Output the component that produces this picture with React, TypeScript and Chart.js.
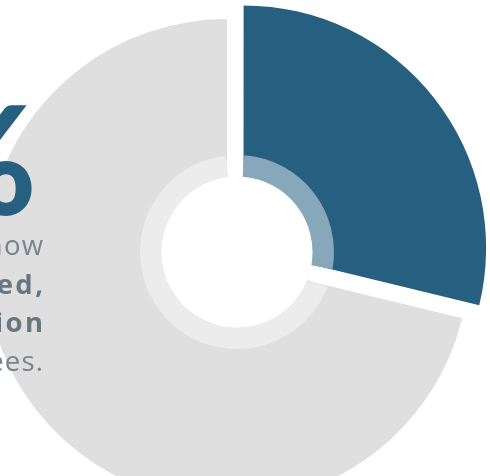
import React, { useEffect, useRef } from "react";
import { Chart, registerables } from "chart.js";

Chart.register(...registerables);

// ---- data ----
const categories = ["Yes", "No"];
const shareValues = [28.8, 71.2];
const outerColors = ["#265f80", "#dfdfdf"];
const innerColors = ["#87a7bb", "#ececec"];
const sliceOffsets = [84, 0];
const bigStat = "29%";
const captionLines = [
  { text: "of companies now", bold: false },
  { text: "offer unlimited,", bold: true },
  { text: "paid vacation", bold: true },
  { text: "to their employees.", bold: false },
];

// ---- layout / style constants ----
const OUTER_CANVAS = 560;
const OUTER_CX = 227;
const OUTER_CY = 261;
const INNER_CANVAS = 200;
const INNER_CX = 237;
const INNER_CY = 252;
const HOLE_R = 75.5;
const RING_R = 97;
// gap edges (degrees clockwise from 12 o'clock) for the inner ring
const GAP_TOP_START = -6.7;
const GAP_TOP_END = 4.3;
const GAP_LOW_BEFORE = 3.6;
const GAP_LOW_AFTER = 7.4;

export default function App() {
  const outerRef = useRef<HTMLCanvasElement | null>(null);
  const innerRef = useRef<HTMLCanvasElement | null>(null);

  useEffect(() => {
    if (!outerRef.current || !innerRef.current) return;
    const total = shareValues.reduce((a, b) => a + b, 0);
    const blueDeg = (shareValues[0] / total) * 360;
    const lowStart = blueDeg - GAP_LOW_BEFORE;
    const lowEnd = blueDeg + GAP_LOW_AFTER;

    const outer = new Chart(outerRef.current, {
      type: "doughnut",
      data: {
        labels: categories,
        datasets: [
          {
            data: shareValues,
            backgroundColor: outerColors,
            borderWidth: 0,
            offset: sliceOffsets,
          },
        ],
      },
      options: {
        responsive: false,
        animation: false,
        devicePixelRatio: 1,
        radius: 242,
        cutout: 60,
        layout: { padding: 0 },
        plugins: {
          legend: { display: false },
          tooltip: { enabled: false },
          title: { display: false },
        },
        events: [],
      } as any,
    });

    const inner = new Chart(innerRef.current, {
      type: "doughnut",
      data: {
        labels: ["", categories[0], "", categories[1]],
        datasets: [
          {
            data: [
              GAP_TOP_END - GAP_TOP_START,
              lowStart - GAP_TOP_END,
              lowEnd - lowStart,
              360 + GAP_TOP_START - lowEnd,
            ],
            backgroundColor: ["rgba(0,0,0,0)", innerColors[0], "rgba(0,0,0,0)", innerColors[1]],
            borderWidth: 0,
          },
        ],
      },
      options: {
        responsive: false,
        animation: false,
        devicePixelRatio: 1,
        radius: RING_R,
        cutout: ((HOLE_R / RING_R) * 100).toFixed(2) + "%",
        rotation: GAP_TOP_START,
        layout: { padding: 0 },
        plugins: {
          legend: { display: false },
          tooltip: { enabled: false },
          title: { display: false },
        },
        events: [],
      } as any,
    });

    return () => {
      outer.destroy();
      inner.destroy();
    };
  }, []);

  return (
    <div
      style={{
        position: "fixed",
        left: 0,
        top: 0,
        width: 490,
        height: 476,
        overflow: "hidden",
        background: "#ffffff",
      }}
    >
      <canvas
        ref={outerRef}
        width={OUTER_CANVAS}
        height={OUTER_CANVAS}
        style={{
          position: "absolute",
          left: OUTER_CX - OUTER_CANVAS / 2,
          top: OUTER_CY - OUTER_CANVAS / 2,
          width: OUTER_CANVAS,
          height: OUTER_CANVAS,
        }}
      />
      <div
        style={{
          position: "absolute",
          left: INNER_CX - HOLE_R - 1,
          top: INNER_CY - HOLE_R - 1,
          width: (HOLE_R + 1) * 2,
          height: (HOLE_R + 1) * 2,
          borderRadius: "50%",
          background: "#ffffff",
        }}
      />
      <canvas
        ref={innerRef}
        width={INNER_CANVAS}
        height={INNER_CANVAS}
        style={{
          position: "absolute",
          left: INNER_CX - INNER_CANVAS / 2,
          top: INNER_CY - INNER_CANVAS / 2,
          width: INNER_CANVAS,
          height: INNER_CANVAS,
        }}
      />
      <div
        style={{
          position: "absolute",
          left: -463,
          top: 82,
          width: 500,
          textAlign: "right",
          fontFamily: "Lato, sans-serif",
          fontWeight: 900,
          fontSize: 150,
          lineHeight: 1,
          color: "#265f80",
          whiteSpace: "nowrap",
        }}
      >
        {bigStat}
      </div>
      <div
        style={{
          position: "absolute",
          left: -357,
          top: 226,
          width: 400,
          textAlign: "right",
          fontFamily: "'Open Sans', sans-serif",
          fontSize: 27.5,
          lineHeight: "38.5px",
          whiteSpace: "nowrap",
        }}
      >
        {captionLines.map((l, i) => {
          const ls = l.bold ? 2.4 : 1.2;
          return (
            <div
              key={i}
              style={{
                fontWeight: l.bold ? 700 : 400,
                color: l.bold ? "#68777f" : "#76858d",
                letterSpacing: ls,
                marginRight: -ls,
              }}
            >
              {l.text}
            </div>
          );
        })}
      </div>
    </div>
  );
}
